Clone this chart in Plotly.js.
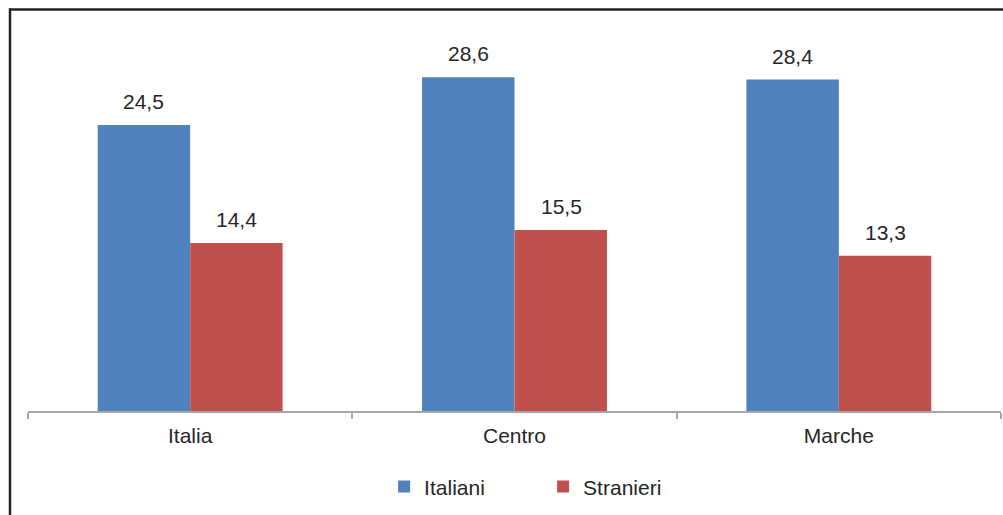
<!DOCTYPE html>
<html>
<head>
<meta charset="utf-8">
<script src="https://cdn.plot.ly/plotly-3.0.1.min.js"></script>
<style>
  html, body { margin: 0; padding: 0; background: #fff; }
  #chart { width: 1003px; height: 515px; }
</style>
</head>
<body>
<div id="chart"></div>
<script>
// Categories and series
const categories = ['Italia', 'Centro', 'Marche'];
const italiani = [24.5, 28.6, 28.4];
const stranieri = [14.4, 15.5, 13.3];
const seriesNames = ['Italiani', 'Stranieri'];

const blue = '#4F81BD';
const red = '#C0504D';
const textColor = '#262626';
const fontFamily = '"Liberation Sans", Arial, sans-serif';
const fontSize = 21;

const fmt = v => v.toFixed(1).replace('.', ',');

const traces = [
  {
    type: 'bar', name: seriesNames[0], x: categories, y: italiani,
    marker: { color: blue, line: { width: 0 } }, hoverinfo: 'none'
  },
  {
    type: 'bar', name: seriesNames[1], x: categories, y: stranieri,
    marker: { color: red, line: { width: 0 } }, hoverinfo: 'none'
  }
];

// value labels above each bar, offset half a bar width from the category centre
const halfBar = 46.5;
const annotations = [];
categories.forEach((c, i) => {
  annotations.push({ x: c, y: italiani[i], xref: 'x', yref: 'y', text: fmt(italiani[i]),
    showarrow: false, xshift: -halfBar, yanchor: 'bottom', yshift: 10,
    font: { family: fontFamily, size: fontSize, color: textColor } });
  annotations.push({ x: c, y: stranieri[i], xref: 'x', yref: 'y', text: fmt(stranieri[i]),
    showarrow: false, xshift: halfBar, yanchor: 'bottom', yshift: 10,
    font: { family: fontFamily, size: fontSize, color: textColor } });
});

const layout = {
  width: 1003, height: 515,
  margin: { l: 28, r: 2, t: 20, b: 104 },
  paper_bgcolor: '#ffffff', plot_bgcolor: '#ffffff',
  font: { family: fontFamily, size: fontSize, color: textColor },
  barmode: 'group', bargap: 0.43, bargroupgap: 0,
  showlegend: true,
  legend: {
    orientation: 'h', x: 0.366, xanchor: 'left', y: -0.194, yanchor: 'middle',
    font: { family: fontFamily, size: fontSize, color: textColor },
    itemwidth: 30, entrywidth: 114, bgcolor: 'rgba(0,0,0,0)'
  },
  xaxis: {
    type: 'category', showgrid: false, zeroline: false,
    showline: true, linecolor: '#a6a6a6', linewidth: 2,
    ticks: 'outside', tickson: 'boundaries', ticklen: 6, tickwidth: 2, tickcolor: '#a6a6a6',
    tickfont: { family: fontFamily, size: fontSize, color: textColor },
    ticklabelstandoff: 5
  },
  yaxis: {
    range: [0, 33.5], visible: false, showgrid: false, zeroline: false, fixedrange: true
  },
  annotations: annotations,
  shapes: [
    { type: 'line', xref: 'paper', yref: 'paper', x0: -0.0185, x1: 1.01, y0: 1.027, y1: 1.027,
      line: { color: '#222222', width: 2.5 }, layer: 'above' },
    { type: 'line', xref: 'paper', yref: 'paper', x0: -0.0185, x1: -0.0185, y0: 1.03, y1: -0.3,
      line: { color: '#222222', width: 2.5 }, layer: 'above' }
  ]
};

Plotly.newPlot('chart', traces, layout, { displayModeBar: false, staticPlot: true });
</script>
</body>
</html>
